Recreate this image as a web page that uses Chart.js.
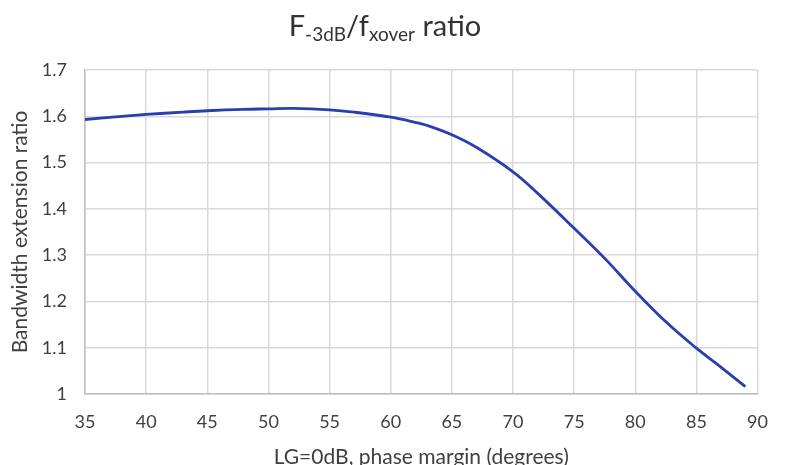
<!DOCTYPE html>
<html>
<head>
<meta charset="utf-8">
<script src="https://cdn.jsdelivr.net/npm/chart.js@4/dist/chart.umd.min.js"></script>
<style>
  body { margin: 0; background: #fff; }
  #wrap { position: relative; width: 785px; height: 465px; }
  #title {
    position: absolute; left: 0; width: 770px; top: 7px;
    text-align: center; font-family: Lato, "Open Sans", sans-serif;
    font-size: 29px; color: #333;
  }
  #title sub { font-size: 19px; vertical-align: -5px; }
</style>
</head>
<body>
<div id="wrap">
  <div id="title">F<sub>-3dB</sub>/f<sub>xover</sub> ratio</div>
  <canvas id="myChart" width="785" height="465"></canvas>
</div>
<script>
  'use strict';

  // phase margin (degrees) and bandwidth extension ratio
  var phaseMargin = [35, 38, 40, 43, 45, 48, 50, 52, 55, 57, 60, 62, 63, 65, 67, 70, 72, 75, 77.5, 80, 82.5, 85, 87, 89];
  var ratio = [1.593, 1.600, 1.604, 1.609, 1.612, 1.615, 1.616, 1.617, 1.614, 1.609, 1.598, 1.587, 1.580, 1.560, 1.533, 1.480, 1.434, 1.358, 1.293, 1.222, 1.156, 1.099, 1.058, 1.016];

  var xTicks = [35, 40, 45, 50, 55, 60, 65, 70, 75, 80, 85, 90];
  var yTicks = [1, 1.1, 1.2, 1.3, 1.4, 1.5, 1.6, 1.7];

  var points = phaseMargin.map(function (x, i) {
    return { x: x, y: ratio[i] };
  });

  var tickFont = { family: 'Lato, "Open Sans", sans-serif', size: 18 };
  var titleFont = { family: 'Lato, "Open Sans", sans-serif', size: 21, lineHeight: 1.1 };

  var ctx = document.getElementById('myChart').getContext('2d');
  var chart = new Chart(ctx, {
    type: 'line',
    data: {
      datasets: [
        {
          label: 'ratio',
          data: points,
          borderColor: '#2b3eae',
          borderWidth: 2.8,
          pointRadius: 0,
          fill: false,
          tension: 0.4,
        },
      ],
    },
    options: {
      responsive: false,
      animation: false,
      layout: {
        padding: { top: 70, right: 10, bottom: 0, left: 9 },
      },
      plugins: {
        legend: { display: false },
        tooltip: { enabled: false },
      },
      scales: {
        x: {
          type: 'linear',
          min: 35,
          max: 90,
          afterBuildTicks: function (axis) {
            axis.ticks = xTicks.map(function (v) { return { value: v }; });
          },
          afterFit: function (axis) { axis.height = 71; },
          grid: { color: '#d9d9d9', lineWidth: 1.5, drawTicks: false },
          border: { color: '#bfbfbf', width: 1.5 },
          ticks: { font: tickFont, color: '#404040', padding: 17, maxRotation: 0 },
          title: {
            display: true,
            text: 'LG=0dB, phase margin (degrees)',
            font: titleFont,
            color: '#404040',
            padding: { top: 10, bottom: -4 },
          },
        },
        y: {
          min: 1,
          max: 1.7,
          afterBuildTicks: function (axis) {
            axis.ticks = yTicks.map(function (v) { return { value: v }; });
          },
          afterFit: function (axis) { axis.width = 76; },
          grid: { color: '#d9d9d9', lineWidth: 1.5, drawTicks: false },
          border: { color: '#bfbfbf', width: 1.5 },
          ticks: {
            font: tickFont,
            color: '#404040',
            padding: 18,
            callback: function (v) { return String(Number(v.toFixed(1))); },
          },
          title: {
            display: true,
            text: 'Bandwidth extension ratio',
            font: titleFont,
            color: '#404040',
            padding: { top: 0, bottom: 8 },
          },
        },
      },
    },
  });
</script>
</body>
</html>
